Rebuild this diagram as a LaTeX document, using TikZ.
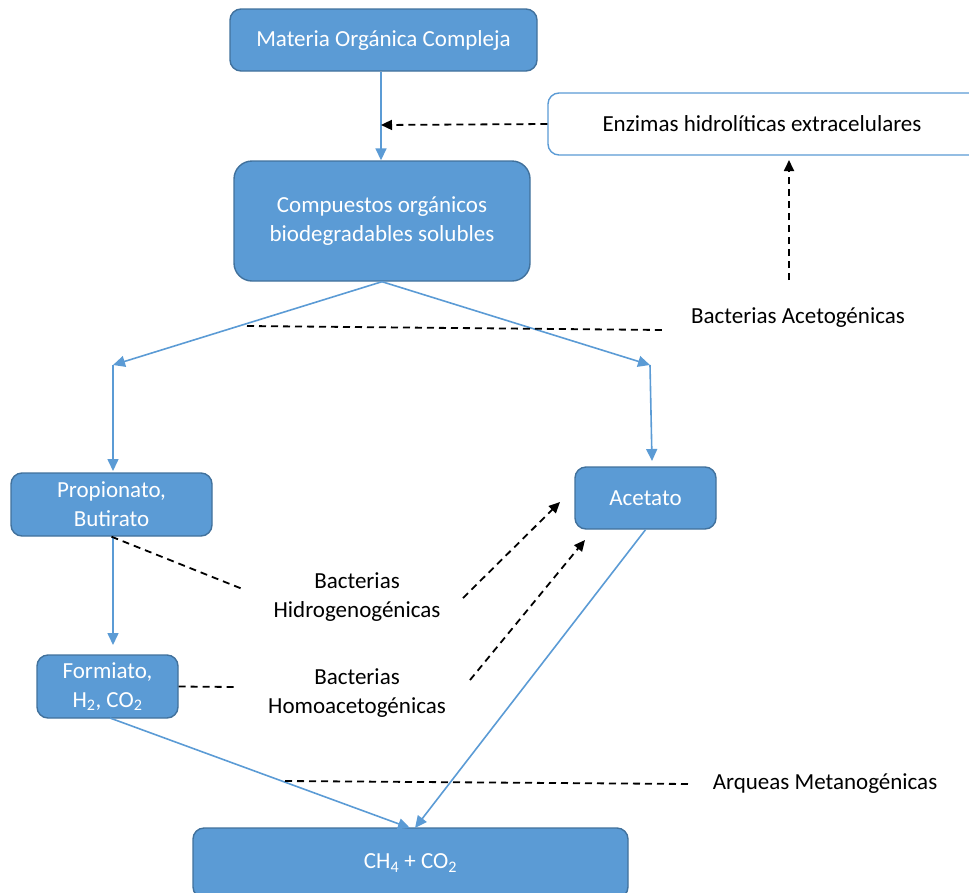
\documentclass[tikz,border=0pt]{standalone}
\usepackage{fontspec}
\setmainfont{Carlito}
\usetikzlibrary{arrows.meta}
\definecolor{bfill}{HTML}{5B9BD5}
\definecolor{bdraw}{HTML}{41719C}
\definecolor{lblue}{HTML}{5B9BD5}
\begin{document}
\begin{tikzpicture}[x=1pt,y=-1pt,
  box/.style={draw=bdraw, line width=1.4pt, fill=bfill, rounded corners=11pt, text=white, font=\fontsize{23}{29}\selectfont, align=center, inner sep=0pt},
  wbox/.style={draw=lblue, line width=1.4pt, fill=white, rounded corners=11pt, text=black, font=\fontsize{23}{29}\selectfont, align=center, inner sep=0pt},
  lbl/.style={text=black, font=\fontsize{23}{29}\selectfont, align=center, inner sep=0pt},
  flow/.style={draw=lblue, line width=1.6pt, -{Triangle[length=12pt,width=11pt]}},
  dsh/.style={draw=black, line width=1.8pt, dash pattern=on 7pt off 5pt},
  dsha/.style={dsh, -{Triangle[length=11pt,width=10pt]}}
]
\useasboundingbox (0,0) rectangle (969,892);
% boxes
\node[box, minimum width=307pt, minimum height=62pt] (mat) at (383.5,40) {Materia Orgánica Compleja};
\node[wbox, minimum width=440pt, minimum height=62pt] (enz) at (768,124) {};
\node[lbl] (enzt) at (762,124) {Enzimas hidrolíticas extracelulares};
\node[box, minimum width=296pt, minimum height=120pt, rounded corners=18pt] (comp) at (382,221) {Compuestos orgánicos\\biodegradables solubles};
\node[box, minimum width=201pt, minimum height=63pt] (prop) at (111.5,504.5) {Propionato,\\Butirato};
\node[box, minimum width=141pt, minimum height=62pt] (acet) at (645.5,498) {Acetato};
\node[box, minimum width=141pt, minimum height=63pt] (form) at (107.5,686.5) {Formiato,\\H\textsubscript{2}, CO\textsubscript{2}};
\node[box, minimum width=435pt, minimum height=70pt] (ch4) at (410.5,863) {CH\textsubscript{4} + CO\textsubscript{2}};
% labels
\node[lbl] (bac) at (798,318) {Bacterias Acetogénicas};
\node[lbl] (hid) at (357,597) {Bacterias\\Hidrogenogénicas};
\node[lbl] (hom) at (357,693) {Bacterias\\Homoacetogénicas};
\node[lbl] (arq) at (825,784) {Arqueas Metanogénicas};
% coordinates
\coordinate (mx) at (381,0);
\coordinate (c1) at (381,125);
\coordinate (ls) at (113,365);
\coordinate (rs) at (650,365);
\coordinate (re) at (652,461);
\coordinate (pe) at (113,471);
\coordinate (fe) at (113,645);
\coordinate (acu) at (789,280);
\coordinate (ace) at (789,160);
\coordinate (acl) at (247,326);
\coordinate (acr) at (663,330);
\coordinate (hd) at (245,590);
\coordinate (h1) at (463,598);
\coordinate (h1e) at (560,502);
\coordinate (h2) at (470,680);
\coordinate (h2e) at (585,540);
\coordinate (fd) at (235,687);
\coordinate (fs) at (110,718);
\coordinate (ct1) at (410,828);
\coordinate (ct2) at (415,828);
\coordinate (ml) at (285,781);
\coordinate (mr) at (690,784);
% blue flows
\draw[flow] (mat.south -| mx) -- (comp.north -| mx);
\draw[flow] (comp.south) -- (ls);
\draw[flow] (ls) -- (pe);
\draw[flow] (comp.south) -- (rs);
\draw[flow] (rs) -- (re);
\draw[flow] (prop.south -| fe) -- (fe);
\draw[flow] (fs) -- (ct1);
\draw[flow] (acet.south) -- (ct2);
% dashed
\draw[dsha] (enz.west) -- (c1);
\draw[dsha] (acu) -- (ace);
\draw[dsh] (acl) -- (acr);
\draw[dsh] (prop.south) -- (hd);
\draw[dsha] (h1) -- (h1e);
\draw[dsha] (h2) -- (h2e);
\draw[dsh] (form.east) -- (fd);
\draw[dsh] (ml) -- (mr);
\end{tikzpicture}
\end{document}
